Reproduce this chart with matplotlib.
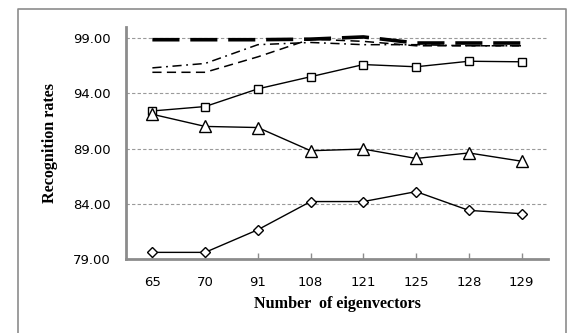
import matplotlib
matplotlib.use("Agg")
import matplotlib.pyplot as plt
from matplotlib.lines import Line2D

# Category labels (number of eigenvectors)
eigenvectors = ["65", "70", "91", "108", "121", "125", "128", "129"]

# Recognition rates per method
rate_diamond = [79.6, 79.6, 81.65, 84.2, 84.2, 85.1, 83.4, 83.1]
rate_triangle = [92.1, 91.0, 90.9, 88.8, 88.95, 88.1, 88.6, 87.85]
rate_square = [92.4, 92.8, 94.4, 95.5, 96.6, 96.4, 96.9, 96.85]
rate_longdash = [98.85, 98.85, 98.85, 98.9, 99.1, 98.55, 98.55, 98.55]
rate_shortdash = [95.9, 95.9, 97.3, 98.9, 98.7, 98.3, 98.3, 98.3]
rate_dashdot = [96.3, 96.7, 98.4, 98.6, 98.4, 98.4, 98.3, 98.3]

yticks = [79.0, 84.0, 89.0, 94.0, 99.0]

W, H = 572, 333
fig = plt.figure(figsize=(W / 100, H / 100), dpi=100)
fig.patch.set_facecolor("white")

# outer chart frame (left, top, right edges)
frame_col = "#8c8c8c"
x0, x1, y1 = 18 / W, 566 / W, 1 - 9 / H
fig.add_artist(Line2D([x0, x0, x1, x1], [0, y1, y1, 0], color=frame_col,
                      lw=1.2, transform=fig.transFigure))

left, right, bottom, top = 126 / W, 548 / W, 1 - 259 / H, 1 - 27 / H
ax = fig.add_axes([left, bottom, right - left, top - bottom])

x = list(range(len(eigenvectors)))

ax.plot(x, rate_longdash, color="black", lw=2.6, ls=(0, (7.5, 3)),
        solid_capstyle="butt", dash_capstyle="butt", zorder=4)
ax.plot(x, rate_shortdash, color="black", lw=1.1, ls=(0, (6, 3.5)), zorder=4)
ax.plot(x, rate_dashdot, color="black", lw=1.1, ls=(0, (6, 3, 1.2, 3)), zorder=4)
ax.plot(x, rate_square, color="black", lw=1.0, marker="s", ms=6.2,
        mfc="white", mec="black", mew=1.0, zorder=5)
ax.plot(x, rate_triangle, color="black", lw=1.0, marker="^", ms=8,
        mfc="white", mec="black", mew=1.0, zorder=5)
ax.plot(x, rate_diamond, color="black", lw=1.0, marker="D", ms=5.5,
        mfc="white", mec="black", mew=1.0, zorder=5)

ax.set_xlim(-0.5, len(eigenvectors) - 0.5)
ax.set_ylim(79, 100)
ax.set_yticks(yticks)
ax.set_yticklabels([f"{v:.2f}" for v in yticks])
ax.set_xticks(x)
ax.set_xticklabels(eigenvectors)

# dashed horizontal gridlines
for v in yticks[1:]:
    ax.axhline(v, color="#9a9a9a", lw=0.8, ls=(0, (3, 2)), zorder=1)

axis_col = "#8c8c8c"
for s in ["top", "right"]:
    ax.spines[s].set_visible(False)
ax.spines["left"].set_color(axis_col)
ax.spines["left"].set_linewidth(2.0)
ax.spines["bottom"].set_color(axis_col)
ax.spines["bottom"].set_linewidth(2.0)

ax.tick_params(axis="y", length=0, pad=11, labelsize=9.5, colors="black")
ax.tick_params(axis="x", length=4, direction="in", color=axis_col, width=1,
               pad=12, labelsize=9.5, colors="black")

ax.set_xlabel("Number  of eigenvectors", family="Liberation Serif",
              fontweight="bold", fontsize=11.6, labelpad=5)
ax.set_ylabel("Recognition rates", family="Liberation Serif",
              fontweight="bold", fontsize=11.6, labelpad=11)

fig.savefig("out.png", dpi=100, facecolor="white")
